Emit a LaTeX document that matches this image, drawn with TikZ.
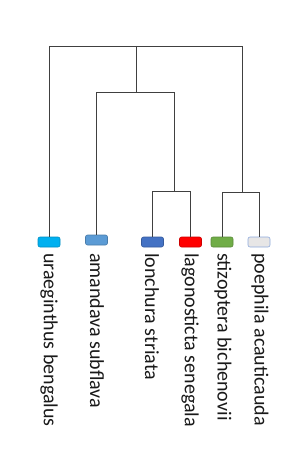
\documentclass[tikz,border=0pt]{standalone}
\usepackage{fontspec}
\setmainfont{Carlito}
\usepackage{xcolor}
\usetikzlibrary{positioning}
\definecolor{cyanleaf}{HTML}{00B0F0}
\definecolor{skyleaf}{HTML}{5B9BD5}
\definecolor{blueleaf}{HTML}{4472C4}
\definecolor{redleaf}{HTML}{FF0000}
\definecolor{greenleaf}{HTML}{70AD47}
\definecolor{greyleaf}{HTML}{E7E6E6}
\definecolor{greyedge}{HTML}{8FAADC}
\begin{document}
\begin{tikzpicture}[x=1pt, y=-1pt, font=\fontsize{20}{24}\selectfont,
  leaf/.style={draw=#1!80!black, fill=#1, rounded corners=2pt, minimum width=22pt, minimum height=10pt, inner sep=0pt, line width=0.6pt},
  taxon/.style={rotate=-90, anchor=west, inner sep=0pt, text=black!90},
  link/.style={draw=black!75, line width=0.8pt}]
\useasboundingbox (0,0) rectangle (299,468);
% leaves
\node[leaf=cyanleaf] (b1) at (49,242) {};
\node[leaf=skyleaf] (b2) at (96.5,240) {};
\node[leaf=blueleaf] (b3) at (152.5,242) {};
\node[leaf=redleaf] (b4) at (190.5,242) {};
\node[leaf=greenleaf] (b5) at (222,242) {};
\node[leaf=greyleaf, draw=greyedge] (b6) at (259,242) {};
% species names
\node[taxon] (t1) at (49,253) {uraeginthus bengalus};
\node[taxon] (t2) at (97,253) {amandava subflava};
\node[taxon] (t3) at (152,253) {lonchura striata};
\node[taxon] (t4) at (190,253) {lagonosticta senegala};
\node[taxon] (t5) at (223,253) {stizoptera bichenovii};
\node[taxon] (t6) at (260,253) {poephila acauticauda};
% inner nodes of the tree
\coordinate (root) at (136,46);
\coordinate (n2) at (136,92);
\coordinate (n3) at (174,191);
\coordinate (n4) at (242,192);
\draw[link] (root -| b1.north) -- (b1.north);
\draw[link] (root -| b1.north) -- (root -| n4) -- (n4);
\draw[link] (root) -- (n2);
\draw[link] (n2) -| (b2.north);
\draw[link] (n2) -| (n3);
\draw[link] (n3) -| (b3.north);
\draw[link] (n3) -| (b4.north);
\draw[link] (n4) -| (b5.north);
\draw[link] (n4) -| (b6.north);
\end{tikzpicture}
\end{document}
